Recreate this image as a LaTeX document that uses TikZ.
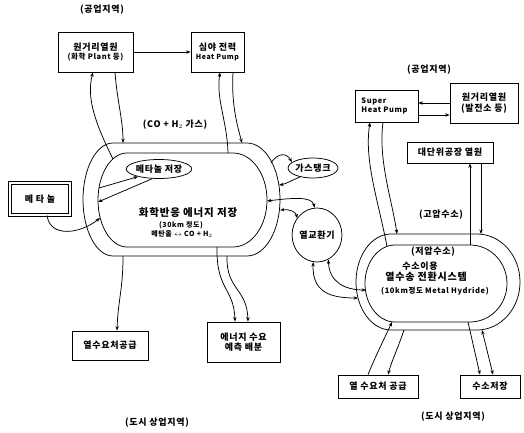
\documentclass[tikz,border=0pt]{standalone}
\usepackage{fontspec}
\setmainfont{Noto Sans CJK KR}[LetterSpace=8]
\usetikzlibrary{arrows.meta,shapes.geometric}
\begin{document}
\begin{tikzpicture}[x=1pt,y=-1pt,
  font=\fontsize{9}{10.5}\selectfont\bfseries,
  line width=0.75pt,
  box/.style={draw, inner sep=0pt, align=center},
  oval/.style={draw, ellipse, inner sep=0pt},
  arr/.style={-{Stealth[length=4.5pt,width=3.4pt]}},
  darr/.style={{Stealth[length=4.5pt,width=3.4pt]}-{Stealth[length=4.5pt,width=3.4pt]}},
  lbl/.style={inner sep=0pt, align=center},
  small/.style={font=\fontsize{7}{8}\selectfont\bfseries}]
\useasboundingbox (0,0) rectangle (524,433);

% ---------- left ring ----------
\draw (113,143) -- (247,143) arc[start angle=90,end angle=-90,x radius=33pt,y radius=56.5pt]
      -- (113,256) arc[start angle=270,end angle=90,x radius=30pt,y radius=56.5pt] -- cycle;
\draw (127,153) -- (233,153) arc[start angle=90,end angle=-90,x radius=34pt,y radius=47pt]
      -- (127,247) arc[start angle=270,end angle=90,x radius=29pt,y radius=47pt] -- cycle;

% ---------- right ring ----------
\draw (391,234) -- (477,234) arc[start angle=90,end angle=-90,x radius=43pt,y radius=48pt]
      -- (391,330) arc[start angle=270,end angle=90,x radius=35pt,y radius=48pt] -- cycle;
\draw (395,245) -- (470,245) arc[start angle=90,end angle=-90,x radius=37pt,y radius=38.5pt]
      -- (395,322) arc[start angle=270,end angle=90,x radius=30pt,y radius=38.5pt] -- cycle;

% ---------- ring boundary points ----------
\coordinate (L1in) at (113,159);
\coordinate (L1out) at (123,143);
\coordinate (L2in) at (228,153);
\coordinate (L2out) at (242,143);
\coordinate (LGTa) at (271,163);
\coordinate (LGTb) at (279,185);
\coordinate (LHXa) at (267,201);
\coordinate (LHXb) at (280,210);
\coordinate (LMSa) at (99,188);
\coordinate (LMSb) at (98,202);
\coordinate (LMT) at (100,218);
\coordinate (LB1) at (123,256);
\coordinate (LB2in) at (217,247);
\coordinate (LB3out) at (227,256);
\coordinate (RSHin) at (387,246.4);
\coordinate (RSHout) at (397,234);
\coordinate (RFin) at (470,245);
\coordinate (RFout) at (481,234);
\coordinate (RHXc) at (358,298);
\coordinate (RHXd) at (366,290);
\coordinate (RB1in) at (392,322);
\coordinate (RB1out) at (404,330);
\coordinate (RB2in) at (468,322);
\coordinate (RB2out) at (482,330);

% ---------- nodes ----------
\node[lbl] (T1) at (102,10) {(공업지역)};
\node[lbl] (T2) at (429,70) {(공업지역)};
\node[lbl] (T3) at (157,423) {(도시 상업지역)};
\node[lbl] (T4) at (453,417) {(도시 상업지역)};

\node[box, minimum width=75pt, minimum height=40pt] (SRC1) at (95.5,52)
  {원거리열원\\[-1pt]{\fontsize{7.5}{8}\selectfont(화학 Plant 등)}};
\node[box, minimum width=53pt, minimum height=40pt] (HP) at (217.5,52)
  {심야 전력\\[-1pt]{\fontsize{7}{8}\selectfont Heat Pump}};
\node[lbl] (CO) at (175,125) {(CO + H$_2$ 가스)};

\node[box, minimum width=60pt, minimum height=32pt, double, double distance=1.6pt] (MT) at (40,199) {메 타 놀};
\node[oval, minimum width=62pt, minimum height=19pt] (MS) at (159,169) {메타놀 저장};
\node[oval, minimum width=40pt, minimum height=20pt] (GT) at (313,168) {가스탱크};
\node[oval, minimum width=41pt, minimum height=54pt] (HX) at (317,235) {열교환기};

\node[lbl, font=\fontsize{10.5}{11}\selectfont\bfseries] (CR1) at (188,213) {화학반응 에너지 저장};
\node[lbl, small] (CR2) at (181,225) {(30km 정도)};
\node[lbl, small] (CR3) at (182,234) {메탄올 $\leftrightarrow$ CO + H$_2$};

\node[box, minimum width=76pt, minimum height=29pt] (LHS) at (110,345.5) {열수요처공급};
\node[box, minimum width=73pt, minimum height=40pt] (EN) at (243.5,342) {에너지 수요\\예측 배분};

\node[box, minimum width=63pt, minimum height=32pt, align=left, font=\fontsize{7.5}{9}\selectfont\bfseries] (SHP) at (386.5,106)
  {Super\\Heat Pump\hspace*{4pt}};
\node[box, minimum width=68pt, minimum height=40pt] (SRC2) at (484,103)
  {원거리열원\\(발전소 등)};
\node[box, minimum width=86pt, minimum height=21pt] (BIG) at (450,152.5) {대단위공장 열원};
\node[lbl] (HPH) at (441,215) {(고압수소)};

\node[lbl] (RL1) at (433,252) {(저압수소)};
\node[lbl] (RL2) at (420,266) {수소이용};
\node[lbl, font=\fontsize{10}{11}\selectfont\bfseries] (RL3) at (426,277) {열수송 전환시스템};
\node[lbl, font=\fontsize{7.5}{8}\selectfont\bfseries] (RL4) at (435,291) {(10km정도 Metal Hydride)};

\node[box, minimum width=80pt, minimum height=23pt] (RHS) at (378,386.5) {열 수요처 공급};
\node[box, minimum width=60pt, minimum height=23pt] (HS) at (490,386.5) {수소저장};

% ---------- connectors ----------
\draw[arr] (SRC1.east) -- (HP.west);
\draw[arr] (L1in) .. controls (96,125) and (86,98) .. ([xshift=-2.5pt]SRC1.south);
\draw[arr] ([xshift=19.5pt]SRC1.south) .. controls (117,100) and (123,120) .. (L1out);
\draw[arr] (L2in) .. controls (227,120) and (216,100) .. ([xshift=2.5pt]HP.south);
\draw[arr] ([xshift=15.5pt]HP.south) .. controls (231,105) and (238,128) .. (L2out);

\draw[arr] (LMSa) -- (MS.200);
\draw[arr] (MS.235) -- (LMSb);
\draw[arr] ([xshift=7pt]MT.south) .. controls (50,238) and (80,234) .. (LMT);

\draw[arr] (LGTa) .. controls (278,152) and (287,153) .. (GT.165);
\draw[arr] (GT.215) .. controls (292,180) and (286,184) .. (LGTb);

\draw[darr] (LHXa) .. controls (292,198) and (312,196) .. (HX.95);
\draw[darr] (LHXb) .. controls (290,209) and (296,212) .. (HX.140);

\draw[darr] (HX.262) .. controls (312,292) and (330,298) .. (RHXc);
\draw[darr] (HX.295) .. controls (329,282) and (345,290) .. (RHXd);

\draw[arr] (LB1) .. controls (123,290) and (118,300) .. ([xshift=7pt]LHS.north);
\draw[arr] (LB2in) .. controls (216,290) and (234,288) .. ([xshift=-8.5pt]EN.north);
\draw[arr] (LB3out) .. controls (226,290) and (247,288) .. ([xshift=4.5pt]EN.north);

\path ([yshift=-9pt]SHP.east) coordinate (s1);
\draw[arr] (SRC2.west) -- (SHP.east |- SRC2.west);
\draw[arr] (s1) -- (s1 -| SRC2.west);

\draw[arr] (RSHin) .. controls (378,200) and (364,160) .. ([xshift=-16.5pt]SHP.south);
\draw[arr] ([xshift=-3.5pt]SHP.south) .. controls (378,160) and (392,200) .. (RSHout);
\draw[arr] (RFin) -- (RFin |- BIG.south);
\draw[arr] (BIG.south -| RFout) -- (RFout);

\draw[arr] ([xshift=-10pt]RHS.north) .. controls (376,355) and (386,335) .. (RB1in);
\draw[arr] (RB1out) .. controls (398,348) and (392,360) .. ([xshift=10pt]RHS.north);
\draw[arr] (RB2in) -- ([xshift=-10pt]HS.north);
\draw[darr] (RB2out) -- ([xshift=3pt]HS.north);
\end{tikzpicture}
\end{document}
